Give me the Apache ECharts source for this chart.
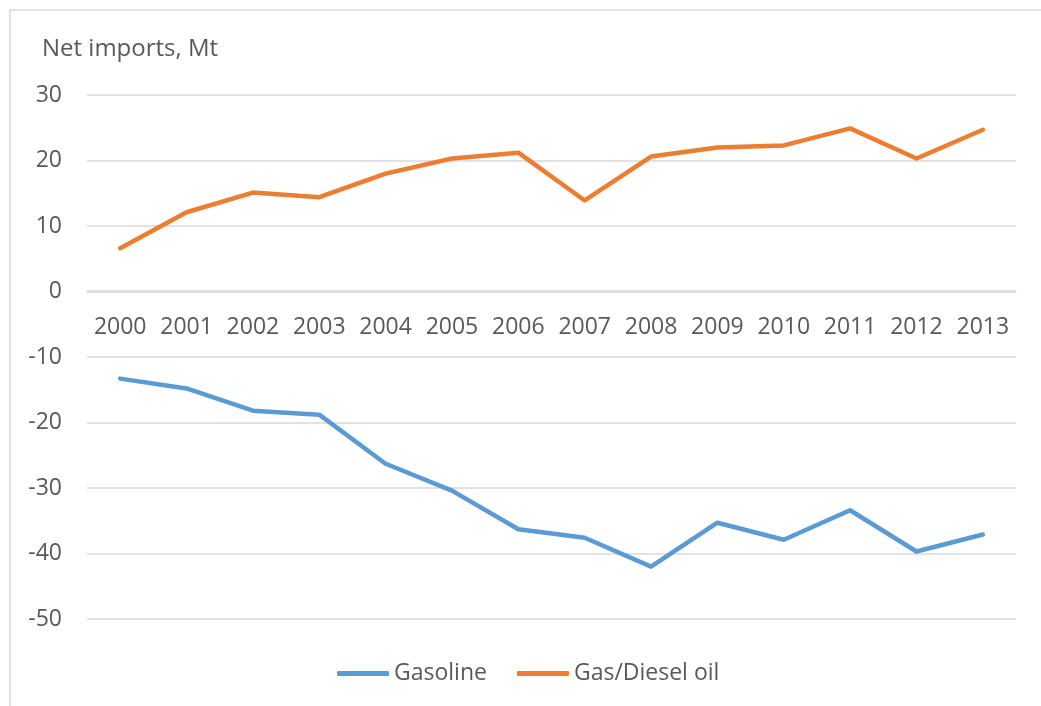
<!DOCTYPE html>
<html>
<head>
<meta charset="utf-8">
<script src="https://cdn.jsdelivr.net/npm/echarts@6/dist/echarts.min.js"></script>
<style>
  html, body { margin: 0; padding: 0; background: #fff; }
  #main { width: 1041px; height: 706px; }
</style>
</head>
<body>
<div id="main"></div>
<script>
var years = ['2000','2001','2002','2003','2004','2005','2006','2007','2008','2009','2010','2011','2012','2013'];
var gasoline = [-13.3, -14.8, -18.2, -18.8, -26.3, -30.4, -36.3, -37.6, -42.0, -35.3, -37.9, -33.4, -39.7, -37.1];
var gasDiesel = [6.6, 12.1, 15.1, 14.4, 18.0, 20.3, 21.2, 13.9, 20.6, 22.0, 22.3, 24.9, 20.3, 24.7];

var myChart = echarts.init(document.getElementById('main'));
var font = '"Open Sans", "Noto Sans", sans-serif';
var option = {
    animation: false,
    textStyle: { fontFamily: font },
    graphic: [
        {
            type: 'rect',
            shape: { x: 10, y: 10, width: 1060, height: 720 },
            style: { fill: 'none', stroke: '#d9d9d9', lineWidth: 1.5 },
            silent: true
        },
        {
            type: 'text',
            left: 42, top: 37,
            style: { text: 'Net imports, Mt', fill: '#595959', font: '24px ' + font }
        }
    ],
    grid: { left: 87, right: 25, top: 95, bottom: 87, containLabel: false },
    legend: {
        bottom: 16,
        left: 332,
        itemWidth: 52,
        itemHeight: 5,
        itemGap: 30,
        icon: 'roundRect',
        textStyle: { color: '#595959', fontSize: 23, fontFamily: font },
        data: ['Gasoline', 'Gas/Diesel oil']
    },
    xAxis: {
        type: 'category',
        data: years,
        boundaryGap: true,
        position: 'bottom',
        // category labels sit just under the zero line
        offset: -328,
        axisLine: { show: true, onZero: false, lineStyle: { color: '#d9d9d9', width: 1.5 } },
        axisTick: { show: false },
        axisLabel: { color: '#595959', fontSize: 23, margin: 25, interval: 0 }
    },
    yAxis: {
        type: 'value',
        min: -50, max: 30, interval: 10,
        axisLine: { show: false },
        axisTick: { show: false },
        axisLabel: { color: '#595959', fontSize: 23, margin: 25 },
        splitLine: { lineStyle: { color: '#d9d9d9', width: 1.5 } }
    },
    series: [
        {
            name: 'Gasoline',
            type: 'line',
            data: gasoline,
            symbol: 'none',
            itemStyle: { color: '#5B9BD5' },
            lineStyle: { color: '#5B9BD5', width: 4.5, cap: 'round', join: 'round' }
        },
        {
            name: 'Gas/Diesel oil',
            type: 'line',
            data: gasDiesel,
            symbol: 'none',
            itemStyle: { color: '#ED7D31' },
            lineStyle: { color: '#ED7D31', width: 4.5, cap: 'round', join: 'round' }
        }
    ]
};
myChart.setOption(option);
</script>
</body>
</html>
